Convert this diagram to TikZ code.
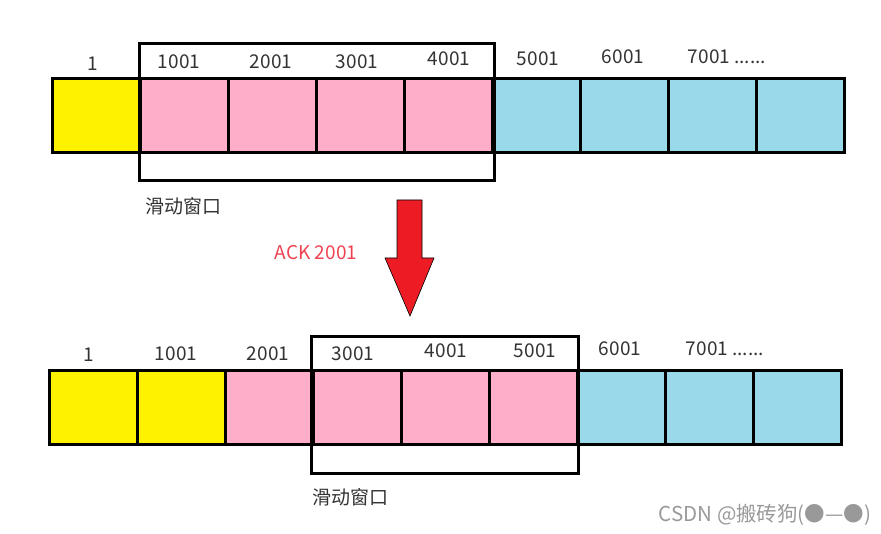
\documentclass[tikz,border=0pt]{standalone}
\usepackage{fontspec}
\setmainfont{Noto Sans CJK SC}
\usetikzlibrary{positioning}

\definecolor{cellyellow}{HTML}{FFF200}
\definecolor{cellpink}{HTML}{FFAEC9}
\definecolor{cellblue}{HTML}{99D9EA}
\definecolor{arrowred}{HTML}{ED1C24}
\definecolor{ackred}{HTML}{EE4352}

\tikzset{
  cell/.style={draw, line width=3pt, minimum width=88pt, minimum height=74pt, inner sep=0pt},
  window/.style={draw, line width=3pt},
  num/.style={font=\fontsize{19}{20}\selectfont, text=black!80, inner sep=0pt},
}

\begin{document}
\begin{tikzpicture}[x=1pt, y=-1pt]
    \useasboundingbox (0,0) rectangle (881,534);

    % first row of segments
    \foreach \i/\c in {1/cellyellow, 2/cellpink, 3/cellpink, 4/cellpink, 5/cellpink,
                       6/cellblue, 7/cellblue, 8/cellblue, 9/cellblue}
      \node[cell, fill=\c] (top\i) at ({96.5+88*(\i-1)}, 115.5) {};

    % the window over the first row
    \draw[window] ([yshift=33.5pt]top2.north west) rectangle ([yshift=-26.5pt]top5.south east);

    % sequence numbers over the first row
    \foreach \x/\y/\t [count=\k] in {93/64/1, 179/62/1001, 271/62/2001, 357/62/3001,
                                    449/59/4001, 538/59/5001, 623/57/6001, 727/57/{7001 ......}}
      \node[num] (ntop\k) at (\x,\y) {\t};

    \node[num] (wintop) at (183,206) {滑动窗口};

    % the ack moves the window
    \node[num, text=ackred] (ack) at (316,253) {ACK 2001};
    \draw[fill=arrowred, line width=0.6pt] (397,200) -- (422,200) -- (422,258) -- (434,258)
      -- (410,316) -- (385,258) -- (397,258) -- cycle;

    % second row of segments
    \foreach \i/\c in {1/cellyellow, 2/cellyellow, 3/cellpink, 4/cellpink, 5/cellpink,
                       6/cellpink, 7/cellblue, 8/cellblue, 9/cellblue}
      \node[cell, fill=\c] (bot\i) at ({93+88*(\i-1)}, 407.3) {};

    % the window over the second row
    \draw[window] ([yshift=32pt]bot4.north west) rectangle ([yshift=-28pt]bot6.south east);

    % sequence numbers over the second row
    \foreach \x/\y/\t [count=\k] in {89/355/1, 176/354/1001, 268/354/2001, 353/354/3001,
                                    446/351/4001, 535/351/5001, 620/349/6001, 725/349/{7001 ......}}
      \node[num] (nbot\k) at (\x,\y) {\t};

    \node[num] (winbot) at (350,497) {滑动窗口};

    % watermark
    \node[num, text=black!40, font=\fontsize{20.5}{21}\selectfont] (mark) at (765,515) {CSDN @搬砖狗(●—●)};

\end{tikzpicture}
\end{document}
